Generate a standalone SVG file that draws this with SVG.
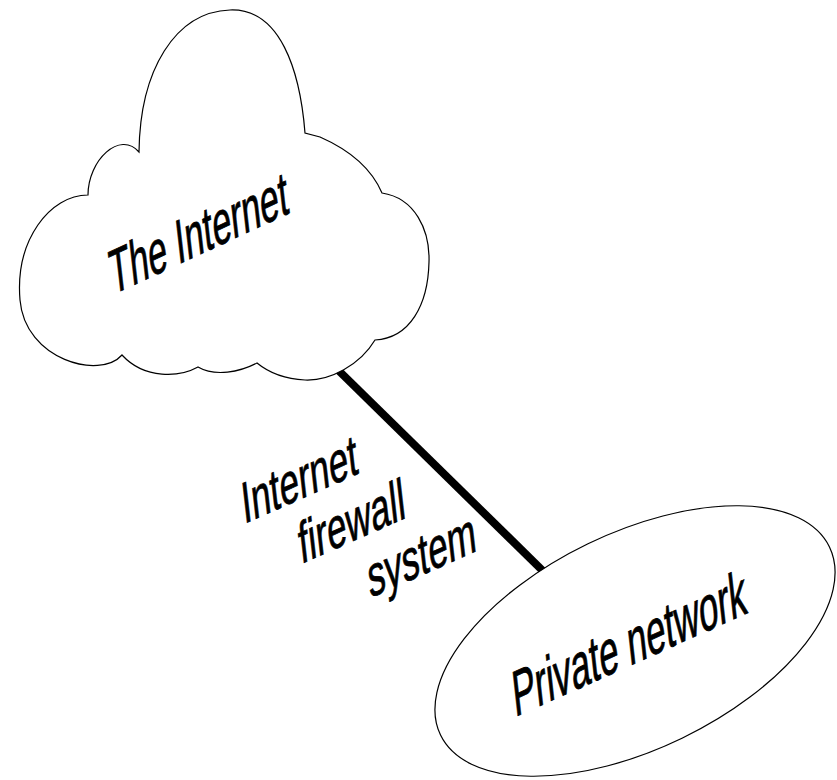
<svg xmlns="http://www.w3.org/2000/svg" width="837" height="780" viewBox="0 0 837 780">
<style>
.shape{fill:#fff;stroke:#000;stroke-width:1.2}
.lbl{font-family:"Liberation Sans",Arial,sans-serif;font-size:50px;fill:#000;stroke:#000;stroke-width:0.7}
.conn{stroke:#000;stroke-width:8;fill:none}
</style>
<rect width="837" height="780" fill="#fff"/>
<g id="connectors">
<line class="conn" x1="336" y1="368" x2="544" y2="572"/>
</g>
<g id="internet">
<path class="shape" d="M139,152 C140,70 175,12 230,10 C280,8 300,70 305,133 L320,137 C345,148 370,165 382,193 C415,198 430,230 429,262 C428,305 410,338 375,340 C360,365 330,381 305,380 C285,379 268,372 257,363 C240,372 215,377 198,367 C180,377 145,380 122,355 C100,380 25,360 20,300 C15,240 50,195 88,195 C88,160 120,130 139,152 Z"/>
<text class="lbl" transform="matrix(0.66,-0.305,0.14,1.22,112,295)">The Internet</text>
</g>
<g id="private">
<ellipse class="shape" cx="635" cy="641" rx="216" ry="108" transform="rotate(-25.8 635 641)"/>
<text class="lbl" transform="matrix(0.677,-0.303,0.14,1.26,515,717)">Private network</text>
</g>
<g id="firewall-label">
<text class="lbl" transform="matrix(0.68,-0.30,0.13,1.14,244,524)">Internet</text>
<text class="lbl" transform="matrix(0.68,-0.30,0.13,1.14,301,564)">firewall</text>
<text class="lbl" transform="matrix(0.68,-0.30,0.13,1.14,370,598)">system</text>
</g>
</svg>
